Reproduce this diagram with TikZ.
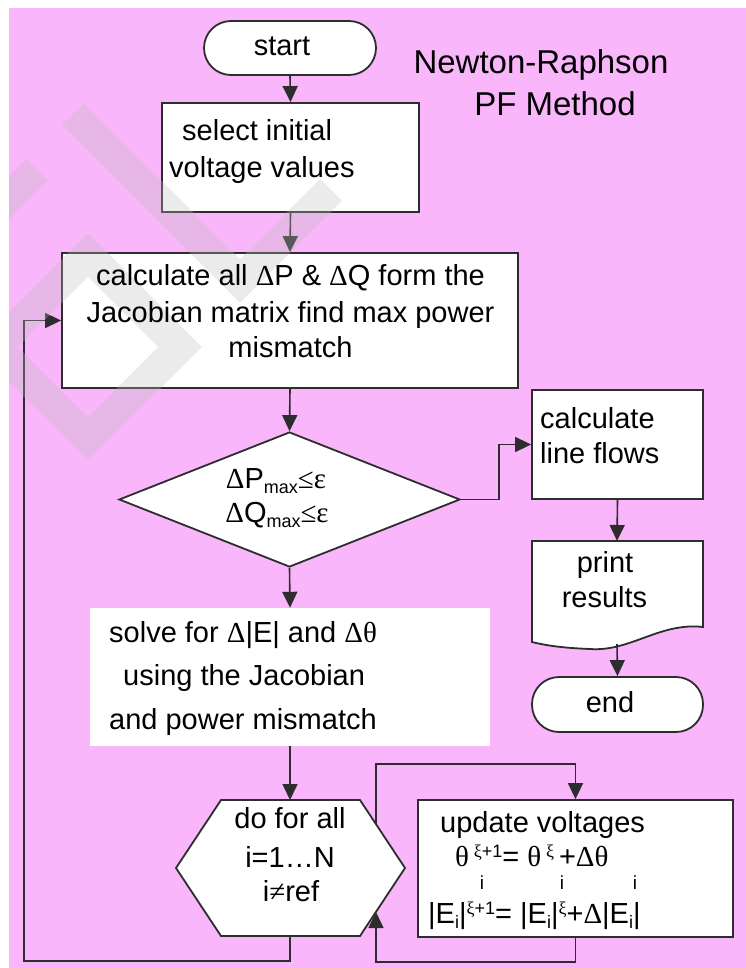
\documentclass[tikz,border=0pt]{standalone}
\usepackage{fontspec}
\setmainfont{Liberation Sans}
\newfontfamily\symf{Liberation Serif}
\usetikzlibrary{arrows.meta,shapes.geometric}
\definecolor{bgpink}{RGB}{250,182,250}
\definecolor{lncol}{RGB}{45,45,45}
\definecolor{wmcol}{RGB}{190,190,190}
\newcommand\mysub[1]{\raisebox{-5pt}{\fontsize{18}{18}\selectfont #1}}
\newcommand\mysup[1]{\raisebox{9pt}{\fontsize{18}{18}\selectfont #1}}
\begin{document}
\begin{tikzpicture}[x=1pt,y=-1pt,
  box/.style={draw=lncol, line width=1.8pt, fill=white, inner sep=0pt},
  term/.style={box, rounded corners=27pt},
  arr/.style={draw=lncol, line width=1.6pt, -{Triangle[length=16pt,width=15pt]}},
  txt/.style={font=\fontsize{29}{35}\selectfont, inner sep=0pt, text=black},
  ttl/.style={font=\fontsize{33}{40}\selectfont, inner sep=0pt, text=black},
  small/.style={font=\fontsize{19}{19}\selectfont, inner sep=0pt, text=black},
  wm/.style={draw=wmcol, opacity=0.3, line width=31pt, line cap=butt, line join=miter}
]
\useasboundingbox (0,0) rectangle (746,968);
\fill[white] (0,0) rectangle (746,968);
\fill[bgpink] (9,8) rectangle (746,968);

% shapes
\node[term, minimum width=172pt, minimum height=54pt] (start) at (290,48) {};
\node[box, minimum width=257pt, minimum height=109pt] (select) at (290.5,157.5) {};
\node[box, minimum width=456pt, minimum height=135pt] (calc) at (290,320.5) {};
\node[box, shape=diamond, minimum width=341pt, minimum height=135pt] (dec) at (289.5,499.5) {};
\node[fill=white, inner sep=0pt, minimum width=400pt, minimum height=138pt] (solve) at (290,677) {};
\node[box, minimum width=171pt, minimum height=109pt] (flows) at (617.5,444.5) {};
\draw[box] (532,541) -- (703,541) -- (703,627)
  .. controls (660,622) and (630,652) .. (590,649)
  .. controls (565,648) and (548,646) .. (532,642) -- cycle;
\coordinate (prtop) at (617,541);
\coordinate (prbot) at (617,644);
\node[term, minimum width=171pt, minimum height=55pt] (end) at (617.5,704.5) {};
\draw[box] (221,800) -- (360,800) -- (405,868) -- (360,936) -- (221,936) -- (176,868) -- cycle;
\coordinate (hexN) at (290,800);
\coordinate (hexS) at (290,936);
\coordinate (hexNE) at (376,824);
\coordinate (hexSE) at (376,912);
\node[box, minimum width=315pt, minimum height=137pt] (upd) at (575.5,868.5) {};

% connectors
\draw[arr] (start.south) -- (select.north);
\draw[arr] (select.south) -- (calc.north);
\draw[arr] (calc.south) -- (dec.north);
\draw[arr] (dec.south) -- (solve.north);
\draw[arr] (solve.south) -- (hexN);
\draw[arr] (dec.east) -- ++(38,0) |- (flows.west);
\draw[arr] (flows.south) -- (prtop);
\draw[arr] (prbot) -- (end.north);
\coordinate (loopTop) at (376,764);
\draw[arr] (hexNE) -- (loopTop) -| (upd.north);
\coordinate (loopBot) at (376,962);
\draw[arr] (upd.south) |- (loopBot) -- (hexSE);
\coordinate (loopBL) at (24,961);
\draw[arr] (hexS) |- (loopBL) |- (calc.west);

% watermark
\begin{scope}
\clip (9,8) rectangle (746,968);
\draw[wm] (73,114) -- (240,281) -- (331,190);
\draw[wm] (37,170) -- (-30,237);
\draw[wm] (88,255) -- (180,347) -- (88,439) -- (-4,347) -- cycle;
\end{scope}

% texts
\node[txt, anchor=base] (tstart) at (282,55.5) {start};
\node[ttl, anchor=base] (title1) at (541,74) {Newton-Raphson};
\node[ttl, anchor=base] (title2) at (555,116) {PF Method};
\node[txt, anchor=base west] (ts1) at (182,140.5) {select initial};
\node[txt, anchor=base west] (ts2) at (169,177.5) {voltage values};
\node[txt, anchor=base] (tc1) at (290.5,285.5) {calculate all {\symf Δ}P \& {\symf Δ}Q form the};
\node[txt, anchor=base] (tc2) at (290.5,322.5) {Jacobian matrix find max power};
\node[txt, anchor=base] (tc3) at (290.5,357.5) {mismatch};
\node[txt, anchor=base] (td1) at (276,488.5) {{\symf Δ}P\mysub{max}{\symf ≤ε}};
\node[txt, anchor=base] (td2) at (277,522.5) {{\symf Δ}Q\mysub{max}{\symf ≤ε}};
\node[txt, anchor=base west] (tf1) at (540,428.5) {calculate};
\node[txt, anchor=base west] (tf2) at (540,463.5) {line flows};
\node[txt, anchor=base] (tp1) at (605,572.5) {print};
\node[txt, anchor=base] (tp2) at (604.5,607.5) {results};
\node[txt, anchor=base] (tend) at (610,712.5) {end};
\node[txt, anchor=base west] (tv1) at (109,642.5) {solve for {\symf Δ}|E| and {\symf Δθ}};
\node[txt, anchor=base west] (tv2) at (123,685.5) {using the Jacobian};
\node[txt, anchor=base west] (tv3) at (109,729.5) {and power mismatch};
\node[txt, anchor=base] (th1) at (290,828.5) {do for all};
\node[txt, anchor=base] (th2) at (290,867.5) {i=1…N};
\node[txt, anchor=base] (th3) at (291,901.5) {i{\symf ≠}ref};
\node[txt, anchor=base west] (tu1) at (440,832.5) {update voltages};
\node[txt, anchor=base west, text depth=0pt] (tu2) at (455,866) {{\symf θ}\,\mysup{{\symf ξ}+1}= {\symf θ}\,\mysup{\symf ξ}\,+{\symf Δθ}};
\node[small, anchor=base] (ti1) at (482,889) {i};
\node[small, anchor=base] (ti2) at (562,889) {i};
\node[small, anchor=base] (ti3) at (635,889) {i};
\node[txt, anchor=base west] (tu3) at (428,923.5) {|E\mysub{i}|\mysup{{\symf ξ}+1}= |E\mysub{i}|\mysup{\symf ξ}+{\symf Δ}|E\mysub{i}|};
\end{tikzpicture}
\end{document}
